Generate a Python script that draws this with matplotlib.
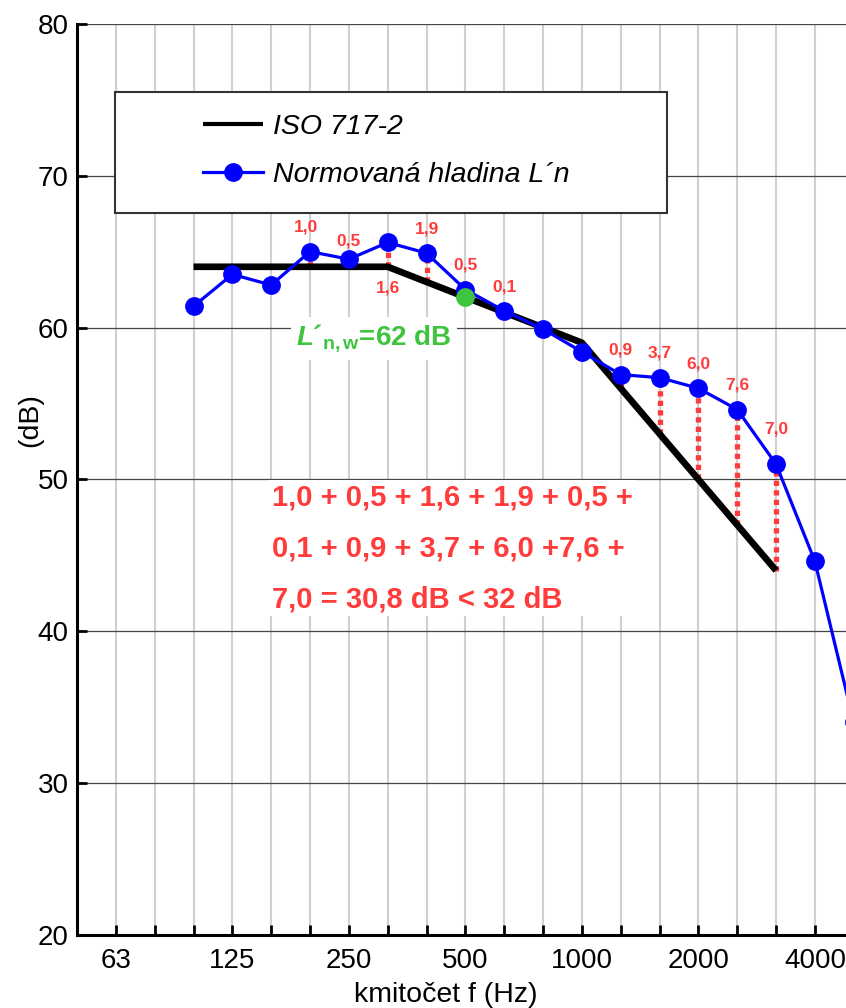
import matplotlib
matplotlib.use('Agg')
import matplotlib.pyplot as plt
from matplotlib.patches import Rectangle

plt.rcParams['font.family'] = ['Liberation Sans', 'DejaVu Sans']
plt.rcParams['mathtext.fontset'] = 'custom'
plt.rcParams['mathtext.rm'] = 'Liberation Sans'
plt.rcParams['mathtext.it'] = 'Liberation Sans:italic'
plt.rcParams['mathtext.bf'] = 'Liberation Sans:bold'
plt.rcParams['mathtext.bfit'] = 'Liberation Sans:bold:italic'

# 1/3 octave bands on the x axis
bands = ['50', '63', '80', '100', '125', '160', '200', '250', '315', '400', '500',
         '630', '800', '1000', '1250', '1600', '2000', '2500', '3150', '4000', '5000']
tick_labels = ['63', '125', '250', '500', '1000', '2000', '4000']

# measured normalized impact level L'n
meas_bands = ['100', '125', '160', '200', '250', '315', '400', '500', '630', '800',
              '1000', '1250', '1600', '2000', '2500', '3150', '4000', '5000']
meas_level = [61.4, 63.5, 62.8, 65.0, 64.5, 65.6, 64.9, 62.5, 61.1, 59.9,
              58.4, 56.9, 56.7, 56.0, 54.6, 51.0, 44.6, 34.0]

# shifted reference curve ISO 717-2
ref_bands = ['100', '125', '160', '200', '250', '315', '400', '500', '630', '800',
             '1000', '1250', '1600', '2000', '2500', '3150']
ref_level = [64, 64, 64, 64, 64, 64, 63, 62, 61, 60, 59, 56, 53, 50, 47, 44]

# unfavourable deviations
dev_bands = ['200', '250', '315', '400', '500', '630', '1250', '1600', '2000', '2500', '3150']
dev_labels = ['1,0', '0,5', '1,6', '1,9', '0,5', '0,1', '0,9', '3,7', '6,0', '7,6', '7,0']

weighted_band = '500'
weighted_value = 62

sum_text = '1,0 + 0,5 + 1,6 + 1,9 + 0,5 +\n0,1 + 0,9 + 3,7 + 6,0 +7,6 +\n7,0 = 30,8 dB < 32 dB'

RED = '#ff3b3b'
GREEN = '#3ec43e'
BLUE = '#0000ff'

pos = {b: i for i, b in enumerate(bands)}
mx = [pos[b] for b in meas_bands]
rx = [pos[b] for b in ref_bands]
meas = dict(zip(meas_bands, meas_level))
ref = dict(zip(ref_bands, ref_level))

fig = plt.figure(figsize=(8.46, 10.08), dpi=100)
ax = fig.add_axes([0.091, 0.0724, 0.909, 0.904])

ref_line, = ax.plot(rx, ref_level, color='black', lw=4.8, solid_capstyle='butt', zorder=3,
                    label='ISO 717-2')
meas_line, = ax.plot(mx, meas_level, color=BLUE, lw=2.3, marker='o', ms=12.5, zorder=4,
                     label='Normovaná hladina L´n')

# red dotted deviation lines
for b in dev_bands:
    ax.plot([pos[b], pos[b]], [ref[b], meas[b]], color=RED, lw=3.8,
            ls=(0, (1, 0.8)), zorder=2.5)

# deviation labels
label_dy = {'250': 1.2, '315': None, '3150': 2.3}
for b, t in zip(dev_bands, dev_labels):
    dy = label_dy.get(b, 1.6)
    if dy is None:
        y = ref[b] - 1.4
    else:
        y = meas[b] + dy
    dx = -0.1 if b == '200' else 0.0
    ax.text(pos[b] + dx, y, t, color=RED, fontsize=12.5, fontweight='bold',
            ha='center', va='center', zorder=5)

# weighted value
ax.plot(pos[weighted_band], weighted_value, 'o', color=GREEN, ms=12.5, zorder=5)
ax.text(5.65, 59.3, r"$\mathbfit{L}$´$_{\mathbf{n,w}}$=62 dB", color=GREEN, fontsize=20,
        fontweight='bold', ha='left', va='center', zorder=1,
        bbox=dict(facecolor='white', edgecolor='none', pad=4))

ax.text(5.03, 49.75, sum_text, color=RED, fontsize=21, fontweight='bold',
        ha='left', va='top', linespacing=2.05, zorder=1,
        bbox=dict(facecolor='white', edgecolor='none', pad=2))

# legend with its own frame
ax.add_patch(Rectangle((0.049, 0.792), 0.718, 0.133, transform=ax.transAxes,
                       facecolor='white', edgecolor='#333333', lw=1.5, zorder=6))
leg = ax.legend(handles=[ref_line, meas_line], loc='upper left',
                bbox_to_anchor=(0.164, 0.901), frameon=False, borderpad=0,
                borderaxespad=0, handlelength=2.1, handletextpad=0.35,
                labelspacing=0.78, prop={'size': 20.5, 'style': 'italic'})
leg.set_zorder(7)
leg.legend_handles[0].set_linewidth(3)

ax.set_xlim(0, 19.8)
ax.set_ylim(20, 80)
ax.set_xticks(range(1, 20))
ax.set_xticklabels([bands[i] if bands[i] in tick_labels else '' for i in range(1, 20)])
ax.set_yticks(range(20, 81, 10))

ax.set_axisbelow(True)
ax.xaxis.grid(True, color='#d0d0d0', lw=1.5)
ax.yaxis.grid(True, color='#444444', lw=0.9)

for s in ['top', 'right']:
    ax.spines[s].set_visible(False)
ax.spines['left'].set_linewidth(2.2)
ax.spines['bottom'].set_linewidth(2.2)
ax.tick_params(direction='in', length=7, width=2, labelsize=20, color='black')
ax.tick_params(axis='x', pad=9)
ax.tick_params(axis='y', pad=6)

ax.set_xlabel('kmitočet f (Hz)', fontsize=20.5)
ax.xaxis.set_label_coords(0.479, -0.052)
ax.set_ylabel('(dB)', fontsize=20.5)
ax.yaxis.set_label_coords(-0.044, 0.565)

fig.savefig('out.png', dpi=100)
